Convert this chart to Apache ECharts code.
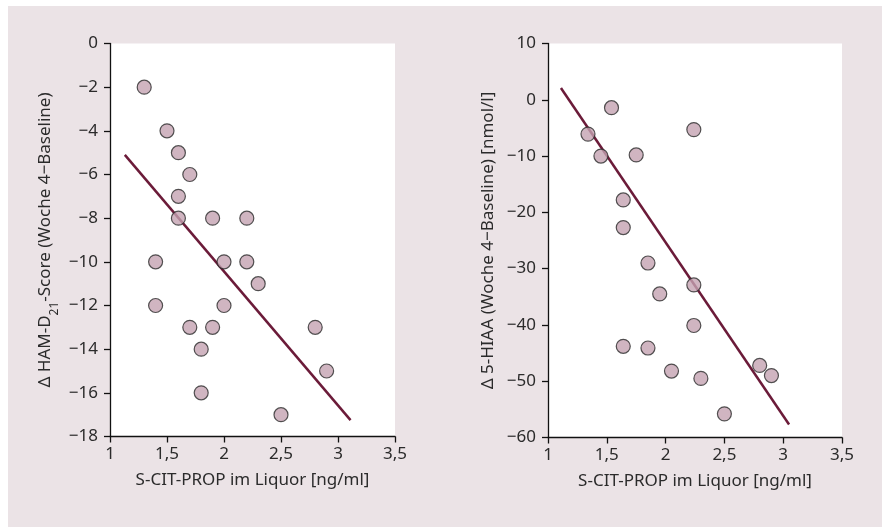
<!DOCTYPE html>
<html>
<head>
<meta charset="utf-8">
<script src="https://cdn.jsdelivr.net/npm/echarts@6/dist/echarts.min.js"></script>
<style>
html,body{margin:0;padding:0;background:#fff;}
#c{position:absolute;left:0;top:0;width:882px;height:527px;}
#bg{position:absolute;left:8px;top:6px;width:874px;height:521px;background:#ebe3e6;}
</style>
</head>
<body>
<div id="bg"></div>
<div id="c"></div>
<script>
// Left panel: Δ HAM-D21 vs S-CIT-PROP
const hamX = [1.3, 1.5, 1.6, 1.7, 1.6, 1.6, 1.9, 2.2, 1.4, 2.0, 2.2, 2.3, 1.4, 2.0, 1.7, 1.9, 2.8, 1.8, 2.9, 1.8, 2.5];
const hamY = [-2, -4, -5, -6, -7, -8, -8, -8, -10, -10, -10, -11, -12, -12, -13, -13, -13, -14, -15, -16, -17];
const hamLineX = [1.13, 3.11];
const hamLineY = [-5.1, -17.25];

// Right panel: Δ 5-HIAA vs S-CIT-PROP
const hiaaX = [1.54, 1.34, 1.45, 1.75, 2.24, 1.64, 1.64, 1.85, 1.95, 2.24, 2.24, 1.64, 1.85, 2.05, 2.30, 2.50, 2.80, 2.90];
const hiaaY = [-1.4, -6.1, -10, -9.8, -5.3, -17.8, -22.7, -29.0, -34.5, -32.9, -40.1, -43.8, -44.1, -48.2, -49.5, -55.8, -47.2, -49.0];
const hiaaLineX = [1.11, 3.05];
const hiaaLineY = [2.1, -57.7];

const xTicks = [1, 1.5, 2, 2.5, 3, 3.5];
const hamTicks = [0, -2, -4, -6, -8, -10, -12, -14, -16, -18];
const hiaaTicks = [10, 0, -10, -20, -30, -40, -50, -60];

const xName = 'S-CIT-PROP im Liquor [ng/ml]';
const hamName = '{n|Δ HAM-D}{s|21}{n|-Score (Woche 4\u2212Baseline)}';
const hiaaName = 'Δ 5-HIAA (Woche 4\u2212Baseline) [nmol/l]';

const FONT = 'Noto Sans';
const TXT = '#2b2b2b';
const FS = 17;
const fmtX = v => String(v).replace('.', ',');
const fmtY = v => (v < 0 ? '\u2212' + Math.abs(v) : String(v));

function xAxis(gi) {
  return {
    type: 'value', gridIndex: gi, min: 1, max: 3.5, interval: 0.5,
    name: xName, nameLocation: 'middle', nameGap: 35,
    nameTextStyle: {fontFamily: FONT, fontSize: FS, color: TXT},
    axisLine: {show: true, onZero: false, lineStyle: {color: '#111', width: 1.3}},
    axisTick: {show: true, length: 6, lineStyle: {color: '#111', width: 1.3}},
    axisLabel: {fontFamily: FONT, fontSize: FS, color: TXT, margin: 9, formatter: fmtX},
    splitLine: {show: false}
  };
}
function yAxis(gi, min, max, interval, name, gap, rich) {
  return {
    type: 'value', gridIndex: gi, min: min, max: max, interval: interval,
    name: name, nameLocation: 'middle', nameGap: gap, nameRotate: 90,
    nameTextStyle: Object.assign({fontFamily: FONT, fontSize: FS, color: TXT}, rich ? {rich: rich} : {}),
    axisLine: {show: true, onZero: false, lineStyle: {color: '#111', width: 1.3}},
    axisTick: {show: true, length: 6, lineStyle: {color: '#111', width: 1.3}},
    axisLabel: {fontFamily: FONT, fontSize: FS, color: TXT, margin: 12, formatter: fmtY},
    splitLine: {show: false}
  };
}
const pts = (xs, ys) => xs.map((x, i) => [x, ys[i]]);
const scatterStyle = {color: '#c4a3b2', borderColor: '#2a2a2a', borderWidth: 1.2};
const lineColor = '#6b1b39';

const chart = echarts.init(document.getElementById('c'), null, {renderer: 'canvas'});
chart.setOption({
  backgroundColor: 'transparent',
  animation: false,
  grid: [
    {left: 110, right: 487, top: 43.5, bottom: 90.5, show: true, backgroundColor: '#fff', borderWidth: 0},
    {left: 548, right: 40, top: 43.5, bottom: 89.5, show: true, backgroundColor: '#fff', borderWidth: 0}
  ],
  xAxis: [xAxis(0), xAxis(1)],
  yAxis: [
    yAxis(0, -18, 0, 2, hamName, 54, {n: {fontFamily: FONT, fontSize: FS, color: TXT, lineHeight: 22}, s: {fontFamily: FONT, fontSize: 12, color: TXT, verticalAlign: 'bottom', lineHeight: 12, padding: [0, 0, -5, 0]}}),
    yAxis(1, -60, 10, 10, hiaaName, 51)
  ],
  series: [
    {type: 'line', xAxisIndex: 0, yAxisIndex: 0, data: pts(hamLineX, hamLineY), symbol: 'none', lineStyle: {color: lineColor, width: 2.5}, z: 2},
    {type: 'scatter', xAxisIndex: 0, yAxisIndex: 0, data: pts(hamX, hamY), symbolSize: 14, itemStyle: scatterStyle, z: 3},
    {type: 'line', xAxisIndex: 1, yAxisIndex: 1, data: pts(hiaaLineX, hiaaLineY), symbol: 'none', lineStyle: {color: lineColor, width: 2.5}, z: 2},
    {type: 'scatter', xAxisIndex: 1, yAxisIndex: 1, data: pts(hiaaX, hiaaY), symbolSize: 14, itemStyle: scatterStyle, z: 3}
  ]
});
</script>
</body>
</html>
